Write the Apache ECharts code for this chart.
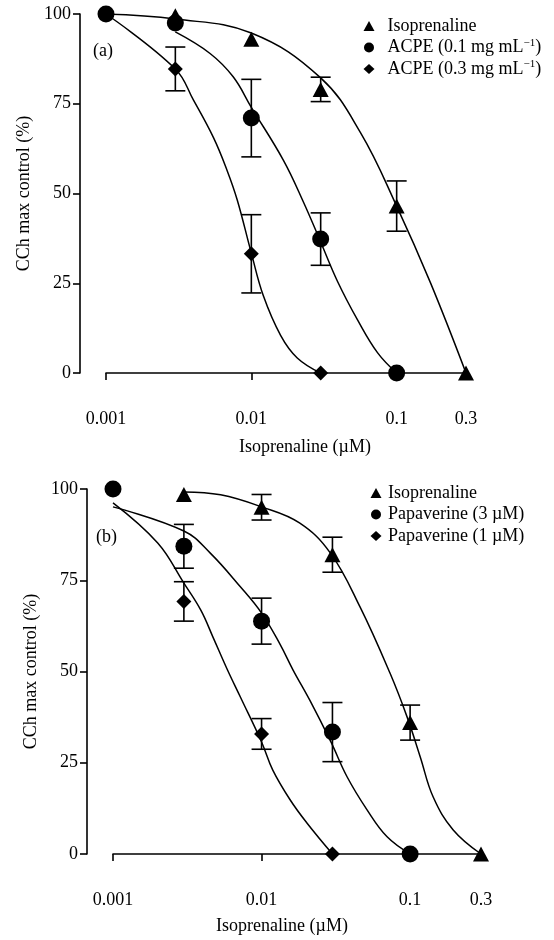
<!DOCTYPE html>
<html>
<head>
<meta charset="utf-8">
<script src="https://cdn.jsdelivr.net/npm/echarts@6/dist/echarts.min.js"></script>
<style>
  html, body { margin: 0; padding: 0; background: #fff; }
  #chart { width: 554px; height: 940px; }
</style>
</head>
<body>
<div id="chart"></div>
<script>
// x axis ticks (concentration, µM)
const tickConc = [0.001, 0.01, 0.1, 0.3]
const tickLabels = ['0.001', '0.01', '0.1', '0.3']

// ---- panel (a) measured points ----
const isoA_x = [0.003, 0.01, 0.03, 0.1, 0.3]
const isoA_y = [99.5, 93, 79, 46.5, 0]
const isoA_err = [0, 0, 3.4, 7, 0]

const acpe1A_x = [0.001, 0.003, 0.01, 0.03, 0.1]
const acpe1A_y = [100, 97.5, 71, 37.3, 0]
const acpe1A_err = [0, 0, 10.8, 7.3, 0]

const acpe3A_x = [0.003, 0.01, 0.03]
const acpe3A_y = [84.7, 33.2, 0]
const acpe3A_err = [6.1, 10.9, 0]

// ---- panel (a) fitted curves ----
const fitIsoA_x = [0.001, 0.003, 0.01, 0.03, 0.0565, 0.1, 0.171, 0.3]
const fitIsoA_y = [100, 98.6, 94.7, 82.2, 66.9, 46.5, 25.1, 0]

const fitAcpe1A_x = [0.003, 0.0052, 0.0075, 0.01, 0.0166, 0.0229, 0.03, 0.0392, 0.0538, 0.074, 0.1]
const fitAcpe1A_y = [95, 89, 82.5, 74, 59.3, 47.5, 36.5, 25.5, 14.8, 5.6, 0]

const fitAcpe3A_x = [0.001, 0.003, 0.004, 0.0055, 0.0068, 0.008, 0.01, 0.0121, 0.0159, 0.0207, 0.03]
const fitAcpe3A_y = [100, 84.7, 76, 65.5, 56.5, 48.2, 33.4, 21.5, 10.5, 4.2, 0]

// ---- panel (b) measured points ----
const isoB_x = [0.003, 0.01, 0.03, 0.1, 0.3]
const isoB_y = [98.5, 95, 82, 36, 0]
const isoB_err = [0, 3.5, 4.8, 4.8, 0]

const pap3B_x = [0.001, 0.003, 0.01, 0.03, 0.1]
const pap3B_y = [100, 84.3, 63.8, 33.4, 0]
const pap3B_err = [0, 6, 6.3, 8.1, 0]

const pap1B_x = [0.003, 0.01, 0.03]
const pap1B_y = [69.2, 32.9, 0]
const pap1B_err = [5.4, 4.2, 0]

// ---- panel (b) fitted curves ----
const fitIsoB_x = [0.003, 0.0053, 0.01, 0.018, 0.029, 0.046, 0.0733, 0.0955, 0.117, 0.143, 0.195, 0.3]
const fitIsoB_y = [99.2, 98.4, 95.1, 90.7, 82.5, 67.7, 49.5, 37.5, 26.6, 15.6, 6.6, 0]

const fitPap3B_x = [0.001, 0.003, 0.0045, 0.0072, 0.01, 0.0133, 0.0163, 0.0212, 0.0293, 0.0377, 0.0513, 0.07, 0.1]
const fitPap3B_y = [95.1, 88.5, 82.5, 73.2, 66, 57.5, 50.4, 42, 30.7, 21.1, 12.1, 4.7, 0]

const fitPap1B_x = [0.001, 0.002, 0.003, 0.0039, 0.0047, 0.0059, 0.0072, 0.01, 0.0119, 0.0156, 0.0202, 0.03]
const fitPap1B_y = [96.2, 85.2, 74.2, 66.8, 59.5, 50.4, 43, 30.7, 23, 14.8, 8.5, 0]

const namesA = ['Isoprenaline', 'ACPE (0.1 mg mL⁻¹)', 'ACPE (0.3 mg mL⁻¹)']
const namesB = ['Isoprenaline', 'Papaverine (3 µM)', 'Papaverine (1 µM)']

const FONT = "'Liberation Serif', 'DejaVu Serif', serif"
const INK = '#000'

const lg = Math.log10

function pts(xs, ys) {
  return xs.map((x, i) => [lg(x), ys[i]])
}

function errs(xs, ys, es) {
  return xs.map((x, i) => [lg(x), ys[i], es[i]]).filter((d) => d[2] > 0)
}

function tickLabel(v) {
  let best = 0
  tickConc.forEach((c, i) => {
    if (Math.abs(lg(c) - v) < Math.abs(lg(tickConc[best]) - v)) best = i
  })
  return tickLabels[best]
}

function renderErrorBar(params, api) {
  const x = api.value(0)
  const y = api.value(1)
  const e = api.value(2)
  const top = api.coord([x, y + e])
  const bot = api.coord([x, y - e])
  const hw = 10
  const style = { stroke: INK, lineWidth: 1.6 }
  return {
    type: 'group',
    children: [
      { type: 'line', shape: { x1: top[0], y1: top[1], x2: bot[0], y2: bot[1] }, style },
      { type: 'line', shape: { x1: top[0] - hw, y1: top[1], x2: top[0] + hw, y2: top[1] }, style },
      { type: 'line', shape: { x1: bot[0] - hw, y1: bot[1], x2: bot[0] + hw, y2: bot[1] }, style }
    ]
  }
}

function fitSeries(idx, xs, ys) {
  return {
    type: 'line',
    xAxisIndex: idx,
    yAxisIndex: idx,
    data: pts(xs, ys),
    showSymbol: false,
    smooth: 0.4,
    silent: true,
    z: 2,
    lineStyle: { color: INK, width: 1.5 }
  }
}

function errSeries(idx, xs, ys, es) {
  return {
    type: 'custom',
    xAxisIndex: idx,
    yAxisIndex: idx,
    data: errs(xs, ys, es),
    renderItem: renderErrorBar,
    silent: true,
    z: 3
  }
}

function pointSeries(idx, name, symbol, size, xs, ys, z) {
  return {
    type: 'scatter',
    name,
    xAxisIndex: idx,
    yAxisIndex: idx,
    data: pts(xs, ys),
    symbol,
    symbolSize: size,
    clip: false,
    z,
    itemStyle: { color: INK, opacity: 1 }
  }
}

function xAxisFor(idx, padding, nameGap) {
  return {
    type: 'value',
    gridIndex: idx,
    min: lg(0.001),
    max: lg(0.3),
    offset: 27,
    name: 'Isoprenaline (µM)',
    nameLocation: 'middle',
    nameGap,
    nameTextStyle: { color: INK, fontFamily: FONT, fontSize: 18, padding },
    axisLine: { lineStyle: { color: INK, width: 1.6 } },
    axisTick: { customValues: tickConc.map(lg), length: 7, lineStyle: { color: INK, width: 1.6 } },
    axisLabel: {
      customValues: tickConc.map(lg),
      formatter: tickLabel,
      color: INK,
      fontFamily: FONT,
      fontSize: 18,
      margin: 10
    },
    splitLine: { show: false }
  }
}

function yAxisFor(idx) {
  return {
    type: 'value',
    gridIndex: idx,
    min: 0,
    max: 100,
    interval: 25,
    offset: 26,
    name: 'CCh max control (%)',
    nameLocation: 'middle',
    nameGap: 44,
    nameRotate: 90,
    nameTextStyle: { color: INK, fontFamily: FONT, fontSize: 18 },
    axisLine: { show: true, lineStyle: { color: INK, width: 1.6 } },
    axisTick: { show: true, length: 7, lineStyle: { color: INK, width: 1.6 } },
    axisLabel: { color: INK, fontFamily: FONT, fontSize: 18, margin: 9 },
    splitLine: { show: false }
  }
}

function legendFor(names, left, top, padLeft) {
  const icons = ['triangle', 'circle', 'diamond']
  return {
    orient: 'vertical',
    left,
    top,
    itemWidth: 11,
    itemHeight: 10,
    itemGap: 1.5,
    selectedMode: false,
    data: names.map((n, i) => ({ name: n, icon: icons[i], itemStyle: { color: INK, opacity: 1 } })),
    formatter: (name) => name.replace('⁻¹', '{sup|−1}'),
    textStyle: {
      color: INK,
      fontFamily: FONT,
      fontSize: 18,
      lineHeight: 20,
      padding: [0, 0, 0, padLeft],
      rich: {
        sup: { fontFamily: FONT, fontSize: 11, lineHeight: 11, verticalAlign: 'top', color: INK }
      }
    }
  }
}

const chart = echarts.init(document.getElementById('chart'), null, { renderer: 'canvas' })

chart.setOption({
  animation: false,
  backgroundColor: '#fff',
  grid: [
    { left: 106, top: 14, width: 360, height: 359 },
    { left: 113, top: 489, width: 368, height: 365 }
  ],
  xAxis: [xAxisFor(0, [0, 0, 0, 38], 38), xAxisFor(1, [0, 30, 0, 0], 36)],
  yAxis: [yAxisFor(0), yAxisFor(1)],
  legend: [
    legendFor(namesA, 358.5, 11, 8),
    legendFor(namesB, 365.5, 478, 1.5)
  ],
  graphic: [
    { type: 'text', left: 93, top: 42, style: { text: '(a)', font: '18px ' + FONT, fill: INK } },
    { type: 'text', left: 96, top: 528, style: { text: '(b)', font: '18px ' + FONT, fill: INK } }
  ],
  series: [
    fitSeries(0, fitIsoA_x, fitIsoA_y),
    fitSeries(0, fitAcpe1A_x, fitAcpe1A_y),
    fitSeries(0, fitAcpe3A_x, fitAcpe3A_y),
    errSeries(0, isoA_x, isoA_y, isoA_err),
    errSeries(0, acpe1A_x, acpe1A_y, acpe1A_err),
    errSeries(0, acpe3A_x, acpe3A_y, acpe3A_err),
    pointSeries(0, namesA[0], 'triangle', [16, 15], isoA_x, isoA_y, 4),
    pointSeries(0, namesA[1], 'circle', 17, acpe1A_x, acpe1A_y, 5),
    pointSeries(0, namesA[2], 'diamond', [15, 15], acpe3A_x, acpe3A_y, 6),

    fitSeries(1, fitIsoB_x, fitIsoB_y),
    fitSeries(1, fitPap3B_x, fitPap3B_y),
    fitSeries(1, fitPap1B_x, fitPap1B_y),
    errSeries(1, isoB_x, isoB_y, isoB_err),
    errSeries(1, pap3B_x, pap3B_y, pap3B_err),
    errSeries(1, pap1B_x, pap1B_y, pap1B_err),
    pointSeries(1, namesB[0], 'triangle', [16, 15], isoB_x, isoB_y, 4),
    pointSeries(1, namesB[1], 'circle', 17, pap3B_x, pap3B_y, 5),
    pointSeries(1, namesB[2], 'diamond', [15, 15], pap1B_x, pap1B_y, 6)
  ]
})
</script>
</body>
</html>
